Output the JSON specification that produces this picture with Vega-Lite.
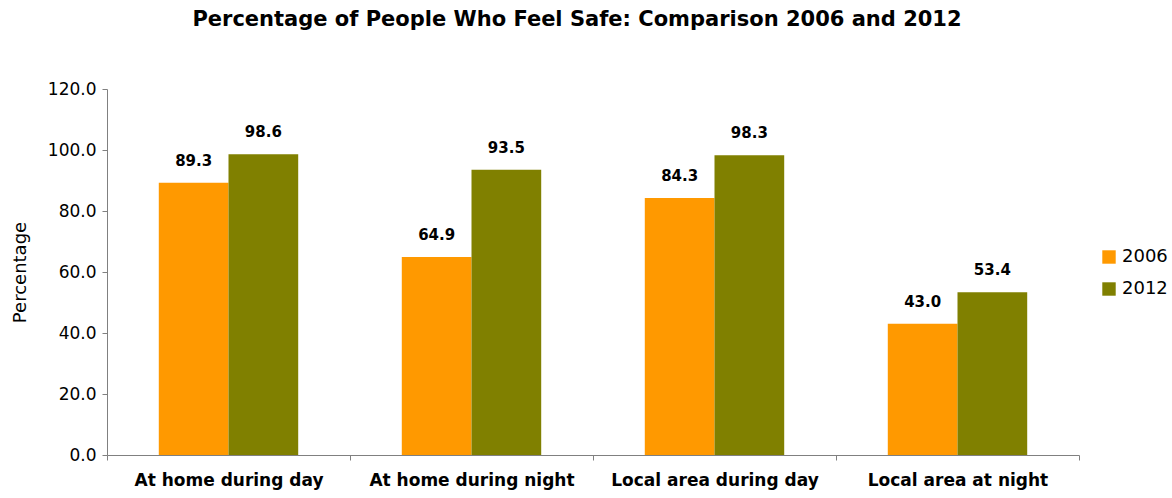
{
  "$schema": "https://vega.github.io/schema/vega-lite/v6.json",
  "autosize": "none",
  "padding": {"left": 107, "top": 89, "right": 93, "bottom": 43},
  "width": 972,
  "height": 366,
  "background": "white",
  "config": {"view": {"stroke": null}},
  "title": {
    "text": "Percentage of People Who Feel Safe: Comparison 2006 and 2012",
    "font": "DejaVu Sans",
    "fontSize": 21,
    "fontWeight": "bold",
    "color": "#000000",
    "anchor": "middle",
    "frame": "group",
    "dx": -16,
    "offset": 50
  },
  "data": {
    "values": [
      {"category": "At home during day", "year": "2006", "value": 89.3},
      {"category": "At home during day", "year": "2012", "value": 98.6},
      {"category": "At home during night", "year": "2006", "value": 64.9},
      {"category": "At home during night", "year": "2012", "value": 93.5},
      {"category": "Local area during day", "year": "2006", "value": 84.3},
      {"category": "Local area during day", "year": "2012", "value": 98.3},
      {"category": "Local area at night", "year": "2006", "value": 43.0},
      {"category": "Local area at night", "year": "2012", "value": 53.4}
    ]
  },
  "encoding": {
    "x": {
      "field": "category",
      "type": "nominal",
      "sort": null,
      "scale": {"paddingInner": 0, "paddingOuter": 0},
      "axis": {
        "title": null,
        "labelAngle": 0,
        "labelFont": "DejaVu Sans",
        "labelFontSize": 17,
        "labelFontWeight": "bold",
        "labelColor": "#000000",
        "labelPadding": 12,
        "labelLimit": 0,
        "labelOverlap": false,
        "tickBand": "extent",
        "domainColor": "#808080",
        "tickColor": "#808080",
        "tickSize": 5
      }
    },
    "xOffset": {
      "field": "year",
      "type": "nominal",
      "scale": {"paddingInner": 0, "paddingOuter": 0.743}
    },
    "y": {
      "field": "value",
      "type": "quantitative",
      "scale": {"domain": [0, 120]},
      "axis": {
        "title": "Percentage",
        "titleFont": "DejaVu Sans",
        "titleFontSize": 18,
        "titleFontWeight": "normal",
        "titleColor": "#000000",
        "titlePadding": 18,
        "values": [0, 20, 40, 60, 80, 100, 120],
        "format": ".1f",
        "labelFont": "DejaVu Sans",
        "labelFontSize": 17,
        "labelColor": "#000000",
        "labelPadding": 6,
        "grid": false,
        "domainColor": "#808080",
        "tickColor": "#808080",
        "tickSize": 5
      }
    }
  },
  "layer": [
    {
      "mark": {"type": "bar"},
      "encoding": {
        "color": {
          "field": "year",
          "type": "nominal",
          "scale": {"domain": ["2006", "2012"], "range": ["#FF9900", "#808000"]},
          "legend": {
            "title": null,
            "orient": "none",
            "legendX": 993,
            "legendY": 159,
            "symbolType": "square",
            "symbolSize": 180,
            "symbolStrokeWidth": 0,
            "labelFont": "DejaVu Sans",
            "labelFontSize": 18,
            "labelColor": "#000000",
            "rowPadding": 14
          }
        }
      }
    },
    {
      "mark": {"type": "text", "baseline": "bottom", "dy": -14, "font": "DejaVu Sans", "fontSize": 15, "fontWeight": "bold", "color": "#000000"},
      "encoding": {
        "text": {"field": "value", "type": "quantitative", "format": ".1f"}
      }
    }
  ]
}
